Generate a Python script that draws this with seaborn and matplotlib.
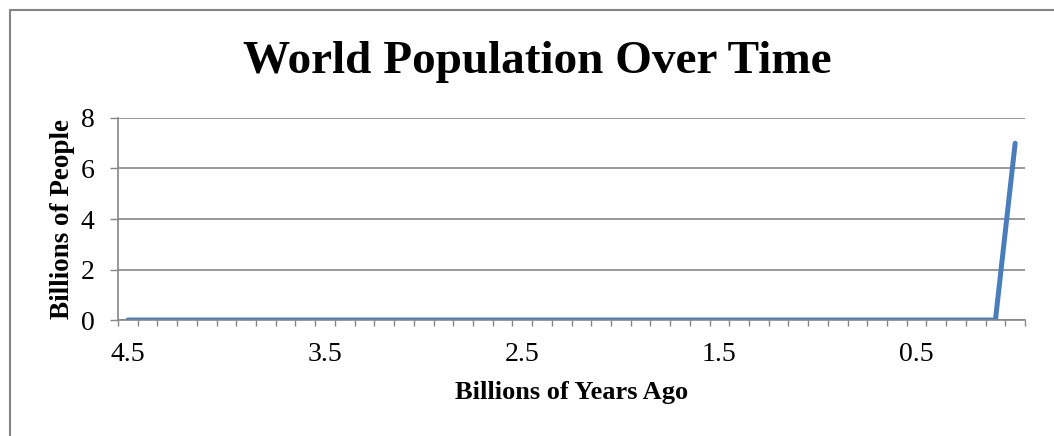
import matplotlib
matplotlib.use("Agg")
import matplotlib.pyplot as plt
from matplotlib.ticker import FixedLocator, NullFormatter
from matplotlib.lines import Line2D
import seaborn as sns
import pandas as pd

# billions of years ago, one category per 0.1
years_ago = [4.5, 4.4, 4.3, 4.2, 4.1, 4.0, 3.9, 3.8, 3.7, 3.6,
             3.5, 3.4, 3.3, 3.2, 3.1, 3.0, 2.9, 2.8, 2.7, 2.6,
             2.5, 2.4, 2.3, 2.2, 2.1, 2.0, 1.9, 1.8, 1.7, 1.6,
             1.5, 1.4, 1.3, 1.2, 1.1, 1.0, 0.9, 0.8, 0.7, 0.6,
             0.5, 0.4, 0.3, 0.2, 0.1, 0.0]
population = [0, 0, 0, 0, 0, 0, 0, 0, 0, 0,
              0, 0, 0, 0, 0, 0, 0, 0, 0, 0,
              0, 0, 0, 0, 0, 0, 0, 0, 0, 0,
              0, 0, 0, 0, 0, 0, 0, 0, 0, 0,
              0, 0, 0, 0, 0, 7]
x_labels = [4.5, 3.5, 2.5, 1.5, 0.5]
y_ticks = [0, 2, 4, 6, 8]

df = pd.DataFrame({"years": years_ago, "pop": population})

sns.set_style("white")
plt.rcParams['font.family'] = ['Liberation Serif', 'DejaVu Serif']
plt.rcParams['text.color'] = 'black'
plt.rcParams['xtick.color'] = 'black'
plt.rcParams['ytick.color'] = 'black'
plt.rcParams['axes.labelcolor'] = 'black'

grey = "#868686"
fig = plt.figure(figsize=(10.54, 4.36), dpi=100)
ax = fig.add_axes([0.112, 0.266, 0.8605, 0.4634])

sns.lineplot(data=df, x="years", y="pop", ax=ax, color="#4A7EBB",
             linewidth=3.6, solid_capstyle="round", solid_joinstyle="round")

ax.set_xlim(4.55, -0.05)
ax.set_ylim(0, 8)

ax.xaxis.set_major_locator(FixedLocator(x_labels))
ax.set_xticklabels([str(v) for v in x_labels], fontsize=20)
ax.xaxis.set_minor_locator(FixedLocator([4.55 - 0.1 * i for i in range(47)]))
ax.xaxis.set_minor_formatter(NullFormatter())
ax.tick_params(axis="x", which="major", length=0, pad=16)
ax.tick_params(axis="x", which="minor", length=4.3, width=1, color=grey,
               direction="out", bottom=True)

ax.set_yticks(y_ticks)
ax.set_yticklabels([str(v) for v in y_ticks], fontsize=20)
ax.tick_params(axis="y", length=6, width=1, color=grey, direction="out",
               left=True, pad=11)

ax.grid(axis="y", color=grey, linewidth=1.2)
for side in ["top", "right"]:
    ax.spines[side].set_visible(False)
for side in ["left", "bottom"]:
    ax.spines[side].set_color(grey)
    ax.spines[side].set_linewidth(1.2)

ax.set_xlabel("Billions of Years Ago", fontsize=19, fontweight="bold")
ax.xaxis.label.set_va("baseline")
ax.xaxis.set_label_coords(0.5, -0.391)
ax.set_ylabel("Billions of People", fontsize=19.5, fontweight="bold")
ax.yaxis.label.set_va("center")
ax.yaxis.set_label_coords(-0.061, 0.5)

fig.text(0.51, 0.8326, "World Population Over Time", fontsize=34,
         fontweight="bold", ha="center", va="baseline")

# chart frame
fig.add_artist(Line2D([0.0095, 0.0095], [0, 0.978], color=grey, linewidth=1.5))
fig.add_artist(Line2D([0.0095, 1.0], [0.978, 0.978], color=grey, linewidth=1.5))

fig.savefig("out.png", dpi=100)
